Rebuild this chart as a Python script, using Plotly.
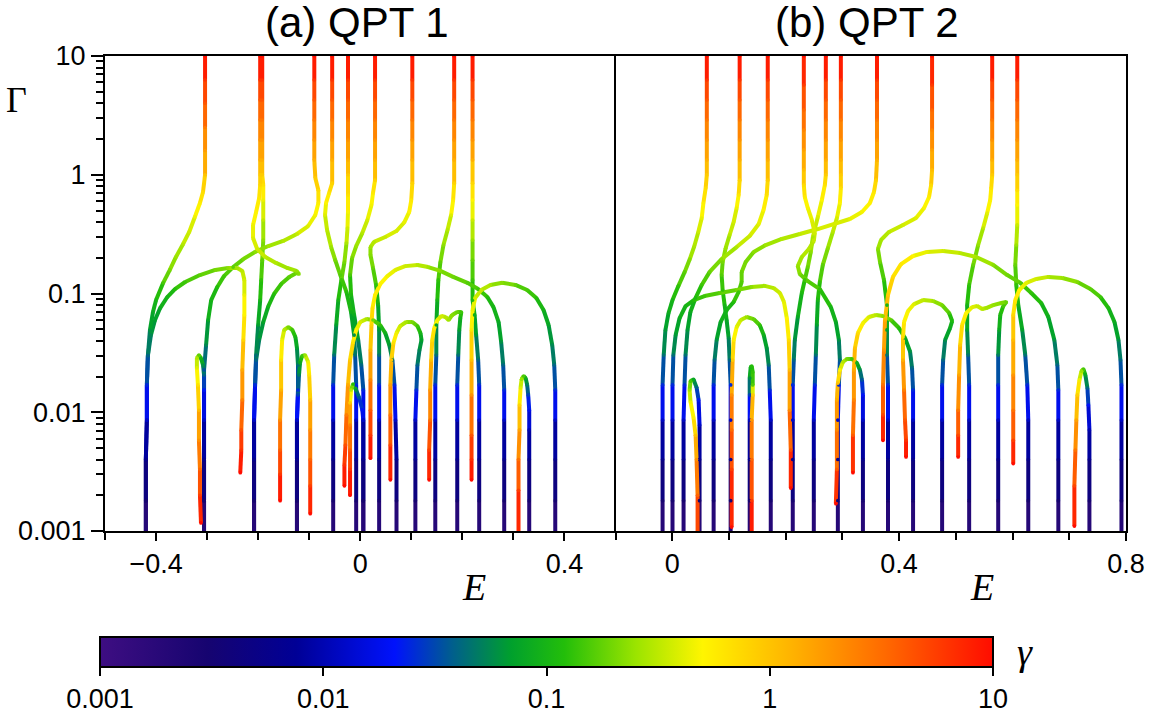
import math
import plotly.graph_objects as go

# ---------------- data: each curve = [E values, Gamma values, gamma values] ----------------
# Panel (a) QPT 1
A01 = [[-0.420,-0.420,-0.420,-0.418,-0.418,-0.416,-0.412,-0.406,-0.400,-0.386,-0.373,-0.361,-0.347,-0.335,-0.324,-0.314,-0.308,-0.304,-0.304,-0.304,-0.304,-0.304,-0.304],
       [0.0008,0.0018,0.004,0.0086,0.017,0.030,0.049,0.070,0.088,0.123,0.158,0.203,0.261,0.330,0.441,0.578,0.716,1.0,1.6,2.5,4.0,6.3,10],
       [0.0015,0.003,0.006,0.012,0.025,0.04,0.06,0.08,0.1,0.15,0.2,0.25,0.3,0.36,0.45,0.55,0.7,1.0,1.7,2.6,4.2,6.5,10]]
A02 = [[-0.420,-0.420,-0.420,-0.418,-0.418,-0.416,-0.410,-0.402,-0.392,-0.378,-0.363,-0.343,-0.314,-0.284,-0.259,-0.241,-0.231,-0.227,-0.227,-0.227,-0.229,-0.231,-0.231,-0.233,-0.233,-0.235],
       [0.0008,0.0018,0.004,0.0086,0.017,0.030,0.0447,0.0598,0.0754,0.0934,0.109,0.125,0.143,0.158,0.164,0.164,0.155,0.130,0.097,0.066,0.0406,0.0227,0.0127,0.0071,0.0048,0.0031],
       [0.0015,0.003,0.006,0.012,0.025,0.04,0.055,0.07,0.085,0.1,0.12,0.14,0.17,0.2,0.23,0.27,0.31,0.37,0.45,0.5,0.76,1.4,2.4,4.4,6.5,10]]
A03 = [[-0.306,-0.306,-0.306,-0.306,-0.306,-0.306,-0.302,-0.298,-0.292,-0.280,-0.267,-0.249,-0.229,-0.206,-0.180,-0.151,-0.124,-0.102,-0.088,-0.082,-0.082,-0.088,-0.090,-0.090,-0.090,-0.090,-0.090,-0.090],
       [0.0008,0.0018,0.004,0.0086,0.0154,0.0227,0.0368,0.0598,0.088,0.1135,0.140,0.167,0.195,0.224,0.251,0.277,0.317,0.370,0.458,0.578,0.74,0.94,1.33,1.96,2.89,4.26,6.28,10],
       [0.0015,0.003,0.006,0.012,0.022,0.035,0.055,0.08,0.1,0.12,0.14,0.17,0.2,0.23,0.26,0.29,0.33,0.4,0.47,0.55,0.7,0.9,1.3,1.9,2.8,4.2,6.3,10]]
A04 = [[-0.306,-0.306,-0.306,-0.306,-0.306,-0.306,-0.308,-0.312,-0.316,-0.320,-0.320,-0.318,-0.316,-0.316,-0.314,-0.314,-0.312],
       [0.0008,0.0018,0.004,0.0086,0.0154,0.0206,0.025,0.0286,0.0303,0.0286,0.0236,0.017,0.0104,0.0058,0.0033,0.002,0.00117],
       [0.0015,0.003,0.006,0.012,0.022,0.04,0.06,0.1,0.17,0.28,0.4,0.65,1.1,2.0,3.5,5.8,10]]
A05 = [[-0.208,-0.208,-0.208,-0.208,-0.206,-0.204,-0.200,-0.196,-0.194,-0.192,-0.190,-0.190,-0.190,-0.190,-0.192,-0.192,-0.192,-0.192,-0.192,-0.192,-0.192],
       [0.0008,0.0018,0.004,0.0086,0.017,0.0303,0.0543,0.088,0.130,0.191,0.282,0.416,0.613,0.82,1.0,1.33,1.96,2.89,4.26,6.28,10],
       [0.0015,0.003,0.006,0.012,0.025,0.045,0.07,0.1,0.13,0.17,0.23,0.32,0.45,0.65,0.9,1.3,1.9,2.8,4.2,6.3,10]]
A06 = [[-0.208,-0.208,-0.208,-0.208,-0.206,-0.204,-0.198,-0.190,-0.180,-0.169,-0.155,-0.139,-0.125,-0.120,-0.125,-0.143,-0.165,-0.186,-0.202,-0.210,-0.210,-0.204,-0.198,-0.196,-0.196,-0.196,-0.196,-0.196,-0.196,-0.196,-0.196],
       [0.0008,0.0018,0.004,0.0086,0.017,0.0275,0.0406,0.0575,0.0784,0.099,0.120,0.138,0.149,0.146,0.155,0.164,0.181,0.203,0.237,0.293,0.378,0.486,0.637,0.82,1.0,1.33,1.96,2.89,4.26,6.28,10],
       [0.0015,0.003,0.006,0.012,0.025,0.04,0.055,0.075,0.1,0.12,0.14,0.17,0.2,0.22,0.24,0.26,0.29,0.32,0.36,0.4,0.45,0.52,0.6,0.75,0.9,1.3,1.9,2.8,4.2,6.3,10]]
A07 = [[-0.124,-0.124,-0.124,-0.124,-0.122,-0.122,-0.124,-0.127,-0.133,-0.141,-0.149,-0.153,-0.155,-0.155,-0.157,-0.157,-0.157,-0.157],
       [0.0008,0.0018,0.004,0.0086,0.0154,0.025,0.0347,0.043,0.0493,0.0522,0.0493,0.0406,0.0275,0.0154,0.0086,0.0048,0.003,0.0018],
       [0.0015,0.003,0.006,0.012,0.025,0.045,0.07,0.1,0.14,0.2,0.3,0.45,0.65,1.2,2.1,3.8,6.2,10]]
A08 = [[-0.124,-0.124,-0.124,-0.124,-0.122,-0.120,-0.118,-0.114,-0.108,-0.102,-0.100,-0.098,-0.098,-0.098,-0.098,-0.098],
       [0.0008,0.0018,0.004,0.0086,0.014,0.0206,0.026,0.0298,0.0303,0.0265,0.0206,0.0127,0.0071,0.004,0.0024,0.0014],
       [0.0015,0.003,0.006,0.012,0.03,0.05,0.08,0.14,0.25,0.45,0.65,1.1,2.0,3.5,5.6,10]]
A09 = [[-0.053,-0.053,-0.053,-0.053,-0.053,-0.051,-0.047,-0.043,-0.037,-0.031,-0.027,-0.025,-0.024,-0.024,-0.024,-0.024,-0.024,-0.024,-0.024,-0.024,-0.024],
       [0.0008,0.0018,0.004,0.0086,0.017,0.0303,0.0543,0.088,0.130,0.184,0.266,0.356,0.486,0.675,1.0,1.33,1.96,2.89,4.26,6.28,10],
       [0.0015,0.003,0.006,0.012,0.025,0.045,0.07,0.1,0.14,0.2,0.28,0.36,0.48,0.65,0.9,1.3,1.9,2.8,4.2,6.3,10]]
A10 = [[-0.008,-0.008,-0.008,-0.008,-0.008,-0.010,-0.012,-0.018,-0.027,-0.039,-0.049,-0.057,-0.065,-0.069,-0.067,-0.061,-0.055,-0.055,-0.055,-0.055,-0.055,-0.055,-0.055],
       [0.0008,0.0018,0.004,0.0086,0.017,0.0303,0.0447,0.0698,0.103,0.143,0.191,0.246,0.343,0.458,0.578,0.702,0.85,1.33,1.96,2.89,4.26,6.28,10],
       [0.0015,0.003,0.006,0.012,0.025,0.045,0.06,0.09,0.12,0.16,0.2,0.25,0.32,0.4,0.5,0.62,0.8,1.3,1.9,2.8,4.2,6.3,10]]
A11 = [[0.006,0.006,0.006,0.006,0.006,0.002,-0.004,-0.012,-0.018,-0.020,-0.016,-0.008,0.004,0.014,0.022,0.025,0.029,0.029,0.029,0.029,0.029,0.029,0.029],
       [0.0008,0.0018,0.004,0.0086,0.0154,0.025,0.0406,0.066,0.097,0.143,0.199,0.251,0.323,0.416,0.556,0.702,0.90,1.33,1.96,2.89,4.26,6.28,10],
       [0.0015,0.003,0.006,0.012,0.025,0.04,0.06,0.085,0.11,0.15,0.2,0.25,0.3,0.37,0.47,0.58,0.8,1.3,1.9,2.8,4.2,6.3,10]]
A12 = [[0.006,0.006,0.006,0.006,0.004,-0.002,-0.008,-0.014,-0.018,-0.020,-0.020,-0.020,-0.020,-0.020],
       [0.0008,0.0018,0.004,0.0086,0.0105,0.0132,0.0154,0.0173,0.0154,0.012,0.0078,0.0048,0.0033,0.002],
       [0.0015,0.003,0.006,0.012,0.02,0.035,0.06,0.12,0.3,0.9,2.4,4,6,10]]
A13 = [[0.037,0.037,0.037,0.037,0.037,0.037,0.037,0.035,0.031,0.025,0.020,0.020,0.027,0.049,0.071,0.086,0.096,0.100,0.102,0.102,0.102,0.102,0.102,0.102,0.102],
       [0.0008,0.0018,0.004,0.0086,0.017,0.0303,0.0493,0.080,0.118,0.164,0.211,0.246,0.272,0.299,0.336,0.396,0.486,0.613,0.85,1.33,1.96,2.89,4.26,6.28,10],
       [0.0015,0.003,0.006,0.012,0.025,0.045,0.065,0.09,0.13,0.18,0.22,0.26,0.3,0.34,0.38,0.43,0.5,0.6,0.8,1.3,1.9,2.8,4.2,6.3,10]]
A14 = [[0.071,0.071,0.071,0.069,0.067,0.063,0.057,0.049,0.039,0.025,0.012,0.000,-0.008,-0.014,-0.020,-0.024,-0.027,-0.029,-0.031,-0.031],
       [0.0008,0.0018,0.004,0.0086,0.017,0.0275,0.0368,0.0465,0.0543,0.0598,0.0609,0.0575,0.0493,0.039,0.0275,0.017,0.0095,0.0053,0.0036,0.0024],
       [0.0015,0.003,0.006,0.012,0.025,0.045,0.065,0.09,0.13,0.2,0.28,0.38,0.5,0.6,0.9,1.4,2.5,4.5,6.6,10]]
A15 = [[0.108,0.108,0.108,0.108,0.110,0.112,0.116,0.120,0.118,0.112,0.102,0.090,0.078,0.071,0.065,0.061,0.059,0.059,0.059,0.059],
       [0.0008,0.0018,0.004,0.0086,0.0154,0.025,0.0334,0.0406,0.0465,0.0532,0.0575,0.0575,0.0532,0.0465,0.0383,0.0275,0.017,0.0095,0.0053,0.0027],
       [0.0015,0.003,0.006,0.012,0.025,0.04,0.055,0.07,0.1,0.14,0.2,0.27,0.35,0.45,0.7,1.0,1.6,2.8,5,10]]
A16 = [[0.147,0.147,0.147,0.147,0.147,0.149,0.149,0.151,0.153,0.157,0.163,0.171,0.178,0.182,0.184,0.184,0.184,0.184,0.184,0.184,0.184],
       [0.0008,0.0018,0.004,0.0086,0.017,0.0303,0.0543,0.088,0.130,0.184,0.256,0.343,0.458,0.613,0.85,1.33,1.96,2.89,4.26,6.28,10],
       [0.0015,0.003,0.006,0.012,0.025,0.045,0.07,0.1,0.13,0.17,0.23,0.3,0.4,0.55,0.8,1.3,1.9,2.8,4.2,6.3,10]]
A17 = [[0.190,0.190,0.190,0.190,0.190,0.192,0.194,0.196,0.198,0.190,0.180,0.173,0.167,0.159,0.151,0.145,0.141,0.139,0.137,0.137,0.135,0.135],
       [0.0008,0.0018,0.004,0.0086,0.017,0.0303,0.0493,0.0621,0.0698,0.0698,0.0659,0.0598,0.0634,0.0646,0.0598,0.0512,0.0406,0.0275,0.0154,0.0086,0.0048,0.0027],
       [0.0015,0.003,0.006,0.012,0.025,0.045,0.07,0.1,0.14,0.18,0.22,0.26,0.3,0.36,0.45,0.55,0.67,1.0,1.75,3.1,5.5,10]]
A18 = [[0.233,0.233,0.233,0.233,0.233,0.231,0.227,0.224,0.220,0.220,0.220,0.220,0.220,0.220,0.220,0.220,0.220,0.220,0.220,0.220,0.220],
       [0.0008,0.0018,0.004,0.0086,0.017,0.0275,0.0447,0.066,0.088,0.130,0.191,0.282,0.416,0.613,0.85,1.33,1.96,2.89,4.26,6.28,10],
       [0.0015,0.003,0.006,0.012,0.025,0.04,0.065,0.09,0.11,0.14,0.18,0.25,0.35,0.5,0.75,1.3,1.9,2.8,4.2,6.3,10]]
A19 = [[0.282,0.282,0.282,0.282,0.282,0.280,0.276,0.271,0.261,0.249,0.231,0.210,0.182,0.157,0.133,0.112,0.088,0.069,0.053,0.039,0.029,0.024,0.022,0.020,0.020,0.020,0.020,0.020],
       [0.0008,0.0018,0.004,0.0086,0.0154,0.025,0.039,0.0575,0.0768,0.0934,0.109,0.123,0.138,0.155,0.167,0.174,0.170,0.158,0.140,0.120,0.097,0.0754,0.0543,0.0334,0.0187,0.0104,0.0064,0.0041],
       [0.0015,0.003,0.006,0.012,0.025,0.04,0.06,0.08,0.1,0.12,0.14,0.16,0.19,0.22,0.26,0.3,0.35,0.4,0.46,0.52,0.55,0.65,0.8,1.2,2.2,3.9,6,10]]
A20 = [[0.331,0.331,0.331,0.331,0.331,0.329,0.327,0.324,0.320,0.316,0.314,0.312,0.312,0.310,0.310,0.310],
       [0.0008,0.0018,0.004,0.0071,0.0104,0.014,0.017,0.0194,0.0202,0.019,0.016,0.0115,0.0071,0.004,0.0022,0.0008],
       [0.0015,0.003,0.006,0.01,0.018,0.03,0.05,0.09,0.15,0.25,0.4,0.8,1.5,3,5.5,10]]
A21 = [[0.382,0.382,0.382,0.382,0.382,0.380,0.376,0.369,0.359,0.345,0.327,0.304,0.278,0.255,0.237,0.225,0.220,0.218,0.218,0.218,0.218,0.218,0.218],
       [0.0008,0.0018,0.004,0.0086,0.0154,0.025,0.0368,0.0543,0.0726,0.0916,0.107,0.118,0.123,0.118,0.107,0.0916,0.0726,0.0493,0.0275,0.014,0.0064,0.004,0.0027],
       [0.0015,0.003,0.006,0.012,0.025,0.04,0.055,0.075,0.095,0.12,0.15,0.18,0.22,0.27,0.33,0.38,0.45,0.6,1.0,1.9,4.2,6.7,10]]

# Panel (b) QPT 2
B01 = [[-0.017,-0.017,-0.017,-0.017,-0.017,-0.015,-0.012,-0.0065,0.0005,0.011,0.022,0.031,0.039,0.046,0.052,0.055,0.059,0.061,0.061,0.061,0.061,0.061,0.061,0.061],
       [0.0008,0.0018,0.004,0.0086,0.017,0.0303,0.0493,0.0685,0.088,0.116,0.152,0.195,0.251,0.330,0.432,0.578,0.773,1.0,1.33,1.96,2.89,4.26,6.28,10],
       [0.0015,0.003,0.006,0.012,0.025,0.045,0.065,0.085,0.1,0.13,0.17,0.22,0.28,0.35,0.43,0.53,0.7,0.9,1.3,1.9,2.8,4.2,6.3,10]]
B02 = [[0.0005,0.0005,0.0005,0.0005,0.0005,0.002,0.006,0.013,0.0235,0.038,0.057,0.0836,0.1136,0.140,0.163,0.179,0.190,0.197,0.202,0.2055,0.207,0.207,0.209,0.209],
       [0.0008,0.0018,0.004,0.0086,0.017,0.0303,0.0447,0.0621,0.0784,0.088,0.0952,0.101,0.107,0.1135,0.116,0.111,0.101,0.0848,0.0621,0.0406,0.0227,0.0104,0.0048,0.0023],
       [0.0015,0.003,0.006,0.012,0.025,0.045,0.065,0.085,0.1,0.12,0.14,0.17,0.2,0.23,0.27,0.31,0.36,0.42,0.5,0.7,1.1,2.2,4.8,10]]
B03 = [[0.020,0.020,0.020,0.020,0.0217,0.0235,0.027,0.032,0.041,0.052,0.066,0.087,0.1136,0.1366,0.1525,0.161,0.1666,0.1684,0.1684,0.1684,0.1684,0.1684,0.1684,0.1684],
       [0.0008,0.0018,0.004,0.0086,0.017,0.0303,0.0493,0.0698,0.0916,0.118,0.152,0.195,0.246,0.305,0.385,0.505,0.675,0.90,1.33,1.96,2.89,4.26,6.28,10],
       [0.0015,0.003,0.006,0.012,0.025,0.045,0.065,0.085,0.11,0.14,0.18,0.23,0.29,0.35,0.42,0.5,0.65,0.85,1.3,1.9,2.8,4.2,6.3,10]]
B04 = [[0.0482,0.0482,0.0482,0.0482,0.0465,0.0429,0.0376,0.0323,0.0306,0.0323,0.0376,0.0412,0.0429,0.0447,0.0447],
       [0.0008,0.0018,0.004,0.0078,0.0127,0.0162,0.0189,0.0183,0.0154,0.0122,0.0090,0.0064,0.004,0.002,0.0008],
       [0.0015,0.003,0.006,0.012,0.022,0.04,0.08,0.15,0.25,0.45,0.55,1.0,2.0,3.5,7]]
B05 = [[0.073,0.073,0.073,0.073,0.073,0.0747,0.0783,0.0853,0.096,0.1083,0.1171,0.1224,0.1224,0.1295,0.1436,0.1648,0.1931,0.2249,0.2567,0.2867,0.3132,0.3345,0.3486,0.3557,0.3592,0.361,0.361,0.361,0.361,0.361,0.361],
       [0.0008,0.0018,0.004,0.0086,0.017,0.0275,0.0406,0.0575,0.0726,0.0848,0.103,0.125,0.152,0.184,0.224,0.256,0.288,0.317,0.349,0.385,0.424,0.486,0.578,0.716,0.90,1.33,1.96,2.89,4.26,6.28,10],
       [0.0015,0.003,0.006,0.012,0.025,0.04,0.06,0.08,0.1,0.12,0.14,0.16,0.18,0.2,0.23,0.26,0.29,0.32,0.35,0.38,0.42,0.47,0.53,0.62,0.8,1.3,1.9,2.8,4.2,6.3,10]]
B06 = [[0.103,0.103,0.103,0.103,0.103,0.1012,0.0995,0.0959,0.0924,0.0889,0.0871,0.0889,0.0942,0.1012,0.1083,0.1136,0.1171,0.1189,0.1189,0.1189,0.1189,0.1189,0.1189,0.1189],
       [0.0008,0.0018,0.004,0.0086,0.017,0.0275,0.0422,0.0598,0.0799,0.107,0.143,0.184,0.241,0.311,0.40,0.525,0.675,0.90,1.33,1.96,2.89,4.26,6.28,10],
       [0.0015,0.003,0.006,0.012,0.025,0.04,0.06,0.08,0.1,0.13,0.16,0.2,0.25,0.3,0.37,0.45,0.6,0.8,1.3,1.9,2.8,4.2,6.3,10]]
B07 = [[0.1737,0.1737,0.1737,0.1737,0.1719,0.1701,0.1666,0.1613,0.1542,0.1436,0.1313,0.1207,0.1136,0.1083,0.1065,0.1048,0.1048,0.1048,0.1048],
       [0.0008,0.0018,0.004,0.0086,0.0154,0.025,0.0347,0.0447,0.0543,0.0609,0.0634,0.0598,0.0522,0.0406,0.0275,0.014,0.0071,0.0033,0.00108],
       [0.0015,0.003,0.006,0.012,0.025,0.045,0.065,0.09,0.13,0.18,0.25,0.33,0.42,0.55,0.9,2.0,3.2,5.5,10]]
B08 = [[0.1366,0.1366,0.1366,0.1366,0.1366,0.1366,0.1383,0.1401,0.1419,0.1419,0.1419,0.1401,0.1401,0.1401,0.1401],
       [0.0008,0.0018,0.004,0.0086,0.014,0.0194,0.024,0.0245,0.0218,0.017,0.014,0.0086,0.004,0.0018,0.0008],
       [0.0015,0.003,0.006,0.012,0.03,0.06,0.1,0.12,0.13,0.16,0.9,1.8,3.5,6,10]]
B09 = [[0.2125,0.2125,0.2125,0.2125,0.2125,0.2143,0.2161,0.2214,0.2284,0.2337,0.2390,0.2443,0.2479,0.2567,0.2638,0.2691,0.2708,0.2708,0.2708,0.2708,0.2708,0.2708,0.2708],
       [0.0008,0.0018,0.004,0.0086,0.017,0.0275,0.0406,0.0634,0.101,0.130,0.167,0.224,0.299,0.441,0.613,0.82,1.0,1.33,1.96,2.89,4.26,6.28,10],
       [0.0015,0.003,0.006,0.012,0.025,0.04,0.055,0.08,0.11,0.14,0.18,0.23,0.28,0.38,0.5,0.65,0.9,1.3,1.9,2.8,4.2,6.3,10]]
B10 = [[0.2496,0.2496,0.2496,0.2496,0.2514,0.2532,0.2549,0.2567,0.2602,0.2655,0.2744,0.2832,0.2903,0.2956,0.2973,0.2973,0.2973,0.2973,0.2973,0.2973,0.2973,0.2973],
       [0.0008,0.0018,0.004,0.0086,0.017,0.0303,0.0543,0.088,0.125,0.174,0.241,0.330,0.432,0.578,0.773,1.0,1.33,1.96,2.89,4.26,6.28,10],
       [0.0015,0.003,0.006,0.012,0.025,0.045,0.07,0.1,0.13,0.17,0.23,0.3,0.38,0.5,0.68,0.9,1.3,1.9,2.8,4.2,6.3,10]]
B11 = [[0.2920,0.2920,0.2920,0.2920,0.2938,0.2956,0.2938,0.2885,0.2797,0.2602,0.2390,0.2249,0.2214,0.2284,0.2408,0.2496,0.2514,0.2461,0.2390,0.2337,0.2320,0.2320,0.2320,0.2320,0.2320,0.2320,0.2320],
       [0.0008,0.0018,0.004,0.0086,0.017,0.0275,0.0406,0.0575,0.0768,0.109,0.127,0.146,0.170,0.203,0.237,0.277,0.323,0.416,0.525,0.65,0.82,1.10,1.62,2.38,3.51,5.70,10],
       [0.0015,0.003,0.006,0.012,0.025,0.04,0.06,0.08,0.1,0.13,0.17,0.21,0.24,0.27,0.3,0.33,0.36,0.41,0.48,0.57,0.72,1.1,1.6,2.3,3.4,5.8,10]]
B12 = [[0.3362,0.3362,0.3362,0.3362,0.3362,0.3345,0.3309,0.3256,0.3168,0.3079,0.3009,0.2956,0.2920,0.2903,0.2903,0.2903,0.2885],
       [0.0008,0.0018,0.004,0.0086,0.014,0.0187,0.0227,0.026,0.0281,0.0281,0.0265,0.0227,0.0176,0.0127,0.0071,0.0033,0.0017],
       [0.0015,0.003,0.006,0.012,0.02,0.035,0.055,0.09,0.14,0.2,0.3,0.5,1.0,1.4,2.2,4,10]]
B13 = [[0.4246,0.4246,0.4246,0.4246,0.4246,0.4228,0.4193,0.4104,0.3998,0.3857,0.3716,0.3592,0.3468,0.3362,0.3274,0.3221,0.3203,0.3203,0.3186,0.3186],
       [0.0008,0.0018,0.004,0.0086,0.0154,0.0236,0.0325,0.0422,0.0512,0.0598,0.0646,0.0659,0.0634,0.0564,0.0465,0.0347,0.0227,0.0127,0.0064,0.0031],
       [0.0015,0.003,0.006,0.012,0.025,0.04,0.06,0.085,0.12,0.17,0.23,0.3,0.38,0.47,0.7,1.0,1.4,2.3,4,10]]
B14 = [[0.3804,0.3804,0.3804,0.3804,0.3804,0.3786,0.3786,0.3786,0.3733,0.3663,0.3627,0.3680,0.3822,0.4069,0.4299,0.4440,0.4528,0.4564,0.4581,0.4581,0.4581,0.4581,0.4581,0.4581],
       [0.0008,0.0018,0.004,0.0086,0.017,0.0303,0.0493,0.0799,0.130,0.184,0.237,0.282,0.330,0.378,0.432,0.525,0.65,0.82,1.10,1.62,2.38,3.51,5.70,10],
       [0.0015,0.003,0.006,0.012,0.025,0.045,0.07,0.1,0.14,0.19,0.23,0.27,0.31,0.36,0.41,0.48,0.57,0.72,1.1,1.6,2.3,3.4,5.8,10]]
B15 = [[0.4758,0.4758,0.4758,0.4758,0.4758,0.4776,0.4811,0.4899,0.4935,0.4882,0.4758,0.4599,0.4422,0.4263,0.4157,0.4087,0.4069,0.4069,0.4087,0.4104,0.4122,0.4122],
       [0.0008,0.0018,0.004,0.0086,0.017,0.0275,0.0406,0.0512,0.0586,0.0685,0.0799,0.0864,0.088,0.0815,0.0712,0.0575,0.043,0.0275,0.0154,0.0086,0.0058,0.0042],
       [0.0015,0.003,0.006,0.012,0.025,0.04,0.06,0.085,0.11,0.15,0.2,0.26,0.32,0.4,0.48,0.55,0.7,1.3,2.4,4.2,6.5,10]]
B16 = [[0.5235,0.5235,0.5235,0.5235,0.5235,0.5217,0.5200,0.5200,0.5235,0.5306,0.5394,0.5482,0.5553,0.5606,0.5624,0.5641,0.5641,0.5641,0.5641,0.5641,0.5641,0.5641],
       [0.0008,0.0018,0.004,0.0086,0.017,0.0303,0.0493,0.0799,0.118,0.174,0.256,0.356,0.476,0.613,0.773,1.0,1.33,1.96,2.89,4.26,6.28,10],
       [0.0015,0.003,0.006,0.012,0.025,0.045,0.07,0.1,0.13,0.18,0.24,0.32,0.42,0.53,0.66,0.9,1.3,1.9,2.8,4.2,6.3,10]]
B17 = [[0.5747,0.5747,0.5747,0.5747,0.5747,0.5747,0.5765,0.5783,0.5836,0.5889,0.5801,0.5659,0.5535,0.5465,0.5376,0.5288,0.5182,0.5111,0.5076,0.5058,0.5041,0.5041,0.5041],
       [0.0008,0.0018,0.004,0.0086,0.017,0.0303,0.0493,0.066,0.0784,0.0848,0.0831,0.0799,0.0754,0.074,0.0784,0.0768,0.0685,0.0543,0.0368,0.0206,0.0104,0.0064,0.0042],
       [0.0015,0.003,0.006,0.012,0.025,0.05,0.08,0.11,0.15,0.18,0.21,0.24,0.27,0.3,0.34,0.4,0.5,0.65,0.9,1.5,2.8,5,10]]
B18 = [[0.6277,0.6277,0.6277,0.6277,0.6260,0.6224,0.6171,0.6101,0.6066,0.6048,0.6066,0.6083,0.6083,0.6083,0.6083,0.6083,0.6083,0.6083,0.6083,0.6083,0.6083],
       [0.0008,0.0018,0.004,0.0086,0.017,0.0303,0.0493,0.0799,0.118,0.174,0.256,0.378,0.556,0.74,1.0,1.33,1.96,2.89,4.26,6.28,10],
       [0.0015,0.003,0.006,0.012,0.025,0.045,0.07,0.1,0.13,0.18,0.25,0.35,0.5,0.68,0.9,1.3,1.9,2.8,4.2,6.3,10]]
B19 = [[0.6807,0.6807,0.6807,0.6807,0.6807,0.6790,0.6737,0.6631,0.6507,0.6330,0.6136,0.5906,0.5659,0.5359,0.5076,0.4776,0.4493,0.4246,0.4034,0.3892,0.3804,0.3751,0.3733,0.3716,0.3716,0.3716],
       [0.0008,0.0018,0.004,0.0086,0.0154,0.025,0.0406,0.0634,0.0831,0.101,0.123,0.143,0.174,0.203,0.219,0.228,0.224,0.207,0.177,0.138,0.097,0.0598,0.0334,0.017,0.0095,0.0058],
       [0.0015,0.003,0.006,0.012,0.025,0.04,0.06,0.085,0.11,0.13,0.16,0.19,0.23,0.27,0.31,0.36,0.42,0.5,0.6,0.72,0.9,1.3,1.9,3.0,5,10]]
B20 = [[0.7355,0.7355,0.7355,0.7355,0.7337,0.7320,0.7284,0.7249,0.7214,0.7179,0.7143,0.7125,0.7108,0.7090,0.7090],
       [0.0008,0.0018,0.004,0.0071,0.0115,0.016,0.0206,0.0231,0.0222,0.0187,0.014,0.0086,0.0048,0.0024,0.0011],
       [0.0015,0.003,0.006,0.01,0.02,0.04,0.08,0.15,0.25,0.45,0.8,1.5,2.8,5,10]]
B21 = [[0.7920,0.7920,0.7920,0.7920,0.7920,0.7903,0.7867,0.7797,0.7691,0.7549,0.7373,0.7143,0.6878,0.6631,0.6419,0.6242,0.6118,0.6048,0.6012,0.6012,0.6012,0.6012,0.6012,0.6012],
       [0.0008,0.0018,0.004,0.0086,0.017,0.0275,0.0406,0.0575,0.0754,0.0934,0.109,0.125,0.135,0.138,0.1325,0.123,0.107,0.088,0.066,0.0406,0.0206,0.0104,0.0058,0.0037],
       [0.0015,0.003,0.006,0.012,0.025,0.04,0.06,0.085,0.11,0.14,0.17,0.21,0.25,0.3,0.36,0.42,0.5,0.6,0.75,1.1,1.8,3,5.5,10]]

PANEL_A = [A01, A02, A03, A04, A05, A06, A07, A08, A09, A10, A11, A12, A13, A14, A15, A16, A17, A18, A19, A20, A21]
PANEL_B = [B01, B02, B03, B04, B05, B06, B07, B08, B09, B10, B11, B12, B13, B14, B15, B16, B17, B18, B19, B20, B21]

TITLES = ["(a) QPT 1", "(b) QPT 2"]
XTICKS_A = [-0.4, 0, 0.4]
XTICKS_B = [0, 0.4, 0.8]
YTICKS = [0.001, 0.01, 0.1, 1, 10]
YTICK_TEXT = ["0.001", "0.01", "0.1", "1", "10"]
CB_TICKS = [-3, -2, -1, 0, 1]
CB_TEXT = ["0.001", "0.01", "0.1", "1", "10"]

# ---------------- colour scale (gamma on log axis 0.001..10) ----------------
STOPS = [
    (0.00, (62, 14, 130)),
    (0.12, (22, 4, 112)),
    (0.22, (0, 0, 150)),
    (0.33, (0, 18, 252)),
    (0.395, (0, 95, 140)),
    (0.46, (0, 160, 45)),
    (0.52, (35, 190, 10)),
    (0.60, (155, 228, 0)),
    (0.675, (255, 245, 0)),
    (0.78, (255, 175, 0)),
    (0.88, (255, 105, 0)),
    (1.00, (255, 12, 0)),
]


def color_at(t):
    t = max(0.0, min(1.0, t))
    for (t0, c0), (t1, c1) in zip(STOPS[:-1], STOPS[1:]):
        if t <= t1:
            f = 0.0 if t1 == t0 else (t - t0) / (t1 - t0)
            r, g, b = (round(c0[k] + f * (c1[k] - c0[k])) for k in range(3))
            return f"rgb({r},{g},{b})"
    return "rgb(255,12,0)"


COLORSCALE = [[t, f"rgb{c}"] for t, c in STOPS]

LW = 4
NB = 72

fig = go.Figure()

for panel, xa, ya, show in ((PANEL_A, "x", "y", True), (PANEL_B, "x2", "y2", False)):
    bins = {}
    px, py, pc = [], [], []
    for E, G, g in panel:
        n = min(len(E), len(G), len(g))
        lg = [math.log10(v) for v in g[:n]]
        runs = []
        for i in range(n - 1):
            t = ((lg[i] + lg[i + 1]) / 2 + 3) / 4
            b = min(NB - 1, max(0, int(t * NB)))
            if runs and runs[-1][0] == b and runs[-1][1][-1] == i:
                runs[-1][1].append(i + 1)
            else:
                runs.append((b, [i, i + 1]))
        for b, idx in runs:
            bx, by = bins.setdefault(b, ([], []))
            bx.extend([E[k] for k in idx] + [None])
            by.extend([G[k] for k in idx] + [None])
        px.extend(E[:n]); py.extend(G[:n]); pc.extend(lg)
    for b in sorted(bins):
        bx, by = bins[b]
        fig.add_trace(go.Scatter(x=bx, y=by, xaxis=xa, yaxis=ya, mode="lines",
                                 line=dict(color=color_at((b + 0.5) / NB), width=LW),
                                 hoverinfo="skip", showlegend=False))
    # round joint markers on top of the segments (smooth the colour joins)
    marker = dict(size=LW - 0.3, color=pc, colorscale=COLORSCALE, cmin=-3, cmax=1, line=dict(width=0))
    if show:
        marker.update(showscale=True, colorbar=dict(
            orientation="h", lenmode="pixels", len=893, thicknessmode="pixels", thickness=30,
            x=(546.5 - 105) / 1021, xanchor="center", y=(531 - 637) / 475, yanchor="top",
            xpad=0, ypad=0, outlinewidth=2, outlinecolor="black",
            tickmode="array", tickvals=CB_TICKS, ticktext=CB_TEXT,
            ticks="outside", ticklen=8, tickwidth=2, tickcolor="black",
            tickfont=dict(family="Liberation Sans", size=27, color="black")))
    fig.add_trace(go.Scatter(x=px, y=py, xaxis=xa, yaxis=ya, mode="markers", marker=marker,
                             hoverinfo="skip", showlegend=False))

axis_common = dict(showline=True, linewidth=2, linecolor="black", showgrid=False,
                   zeroline=False, automargin=False,
                   tickfont=dict(family="Liberation Sans", size=27, color="black"))

fig.update_layout(
    width=1150, height=720, plot_bgcolor="white", paper_bgcolor="white",
    margin=dict(l=105, r=24, t=56, b=189, autoexpand=False),
    xaxis=dict(domain=[0, 0.5], range=[-0.5, 0.5], anchor="y", tickmode="array",
               tickvals=XTICKS_A, ticktext=["\u22120.4", "0", "0.4"], mirror=True,
               ticks="outside", ticklen=8, tickwidth=2, tickcolor="black",
               minor=dict(tickmode="linear", tick0=0, dtick=0.1, ticks="outside", ticklen=7,
                          tickwidth=2, tickcolor="black"),
               **axis_common),
    xaxis2=dict(domain=[0.5, 1], range=[-0.1, 0.8], anchor="y2", tickmode="array",
                tickvals=XTICKS_B, ticktext=["0", "0.4", "0.8"], mirror=True,
                ticks="outside", ticklen=8, tickwidth=2, tickcolor="black",
                minor=dict(tickmode="linear", tick0=0, dtick=0.1, ticks="outside", ticklen=7,
                           tickwidth=2, tickcolor="black"),
                **axis_common),
    yaxis=dict(type="log", range=[-3, 1], anchor="x", tickmode="array",
               tickvals=YTICKS, ticktext=YTICK_TEXT, mirror=False,
               ticks="outside", ticklen=12, tickwidth=2, tickcolor="black",
               minor=dict(ticks="outside", ticklen=7, tickwidth=2, tickcolor="black", dtick="D1"),
               **axis_common),
    yaxis2=dict(type="log", range=[-3, 1], anchor="x2", showticklabels=False, ticks="",
                showline=True, linewidth=2, linecolor="black", mirror=True, showgrid=False,
                zeroline=False, automargin=False),
)

ann = []
for title, cx in zip(TITLES, (357, 867)):
    ann.append(dict(text=title, x=(cx - 105) / 1021, y=(531 - 22) / 475, xref="paper", yref="paper",
                    showarrow=False, xanchor="center", yanchor="middle",
                    font=dict(family="Liberation Sans", size=42, color="black")))
ann.append(dict(text="\u0393", x=(16 - 105) / 1021, y=(531 - 100) / 475, xref="paper", yref="paper",
                showarrow=False, xanchor="center", yanchor="middle",
                font=dict(family="Liberation Serif", size=36, color="black")))
for cx in (474, 982):
    ann.append(dict(text="<i>E</i>", x=(cx - 105) / 1021, y=(531 - 587) / 475, xref="paper",
                    yref="paper", showarrow=False, xanchor="center", yanchor="middle",
                    font=dict(family="Liberation Serif", size=38, color="black")))
ann.append(dict(text="<i>\u03b3</i>", x=(1025 - 105) / 1021, y=(531 - 652) / 475, xref="paper",
                yref="paper", showarrow=False, xanchor="center", yanchor="middle",
                font=dict(family="Liberation Serif", size=38, color="black")))
fig.update_layout(annotations=ann)

fig.write_html("out.html")
